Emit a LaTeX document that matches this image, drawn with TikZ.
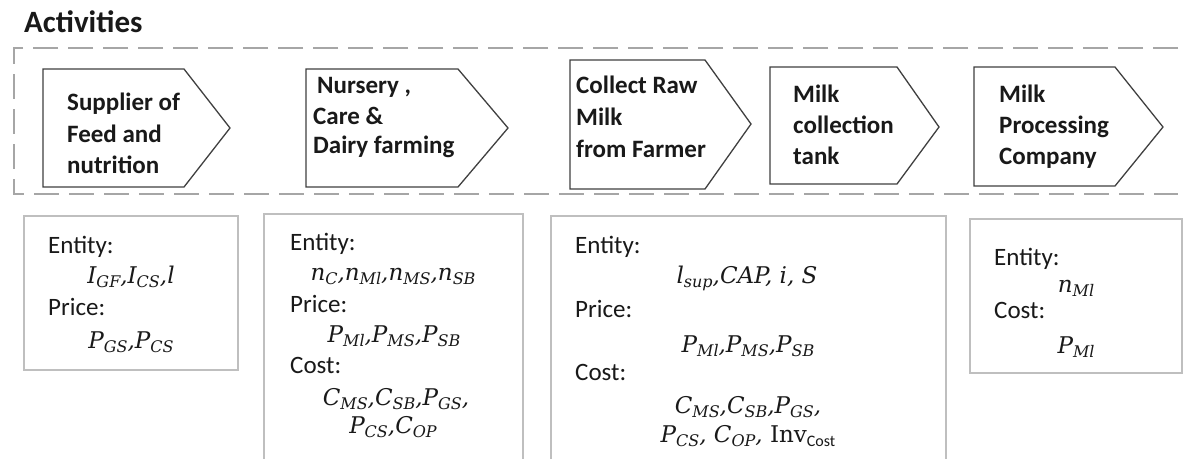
\documentclass[tikz,border=0pt]{standalone}
\usepackage{fontspec}
\setmainfont{Carlito}
\newfontfamily\mathlike{DejaVu Serif}
\newcommand{\lowr}[1]{\raisebox{-4.5pt}{\fontsize{16}{16}\selectfont #1}}
\begin{document}
\begin{tikzpicture}[x=1pt,y=-1pt,
 act/.style={draw=black!75, line width=1.3pt, fill=white, line join=miter},
 info/.style={draw=black!25, line width=2pt},
 lbl/.style={anchor=base west, inner sep=0pt, text=black!90, font=\fontsize{25}{31}\selectfont},
 bl/.style={anchor=base west, inner sep=0pt, text=black!90, font=\bfseries\fontsize{25}{31}\selectfont},
 mth/.style={anchor=base, inner sep=0pt, text=black!90, font=\fontsize{23}{28}\selectfont\mathlike\itshape}]
\useasboundingbox (0,0) rectangle (1183,458);
\clip (0,0) rectangle (1183,458);
\fill[white] (0,0) rectangle (1183,458);

\node[anchor=base west, inner sep=0pt, text=black!90, font=\bfseries\fontsize{31}{36}\selectfont] (title) at (24,32) {Activities};

\draw[draw=black!35, line width=2.5pt, dash pattern=on 25pt off 10pt] (1178,48) -- (14,48) -- (14,194) -- (1178,194);

% activity arrows
\draw[act] (43,69) -- (184,69) -- (230,128) -- (184,187) -- (43,187) -- cycle;
\draw[act] (306,69) -- (458,69) -- (508,128) -- (458,187) -- (306,187) -- cycle;
\draw[act] (570,60) -- (705,60) -- (751,124) -- (705,189) -- (570,189) -- cycle;
\draw[act] (770,67) -- (897,67) -- (939,127) -- (897,184) -- (770,184) -- cycle;
\draw[act] (974,67) -- (1115,67) -- (1163,127) -- (1115,186) -- (974,186) -- cycle;

\node[bl] (a1l1) at (67,110) {Supplier of};
\node[bl] (a1l2) at (67,142) {Feed and};
\node[bl] (a1l3) at (67,173) {nutrition};

\node[bl] (a2l1) at (317,93) {Nursery ,};
\node[bl] (a2l2) at (313,124) {Care \&};
\node[bl] (a2l3) at (313,153) {Dairy farming};

\node[bl] (a3l1) at (576,93) {Collect Raw};
\node[bl] (a3l2) at (576,125) {Milk};
\node[bl] (a3l3) at (576,157) {from Farmer};

\node[bl] (a4l1) at (793,102) {Milk};
\node[bl] (a4l2) at (793,133) {collection};
\node[bl] (a4l3) at (793,164) {tank};

\node[bl] (a5l1) at (999,102) {Milk};
\node[bl] (a5l2) at (999,133) {Processing};
\node[bl] (a5l3) at (999,164) {Company};

% info boxes
\draw[info] (24,216) rectangle (238,370);
\draw[info] (264,214) rectangle (523,470);
\draw[info] (551,216) rectangle (946,470);
\draw[info] (970,219) rectangle (1182,373);

\node[lbl] (b1e) at (48,253) {Entity:};
\node[mth] (b1em) at (131,283) {I\lowr{GF},I\lowr{CS},l};
\node[lbl] (b1p) at (48,315) {Price:};
\node[mth] (b1pm) at (131,348) {P\lowr{GS},P\lowr{CS}};

\node[lbl] (b2e) at (290,250) {Entity:};
\node[mth] (b2em) at (393,280) {n\lowr{C},n\lowr{Ml},n\lowr{MS},n\lowr{SB}};
\node[lbl] (b2p) at (290,312) {Price:};
\node[mth] (b2pm) at (394,342) {P\lowr{Ml},P\lowr{MS},P\lowr{SB}};
\node[lbl] (b2c) at (290,373) {Cost:};
\node[mth] (b2cm1) at (396,405) {C\lowr{MS},C\lowr{SB},P\lowr{GS},};
\node[mth] (b2cm2) at (393,433) {P\lowr{CS},C\lowr{OP}};

\node[lbl] (b3e) at (575,253) {Entity:};
\node[mth] (b3em) at (747,283) {l\lowr{sup},CAP, i, S};
\node[lbl] (b3p) at (575,317) {Price:};
\node[mth] (b3pm) at (748,352) {P\lowr{Ml},P\lowr{MS},P\lowr{SB}};
\node[lbl] (b3c) at (575,380) {Cost:};
\node[mth] (b3cm1) at (748,413) {C\lowr{MS},C\lowr{SB},P\lowr{GS},};
\node[mth] (b3cm2) at (748,442) {P\lowr{CS}, C\lowr{OP}, {\upshape Inv}\lowr{\normalfont Cost}};

\node[lbl] (b4e) at (994,265) {Entity:};
\node[mth] (b4em) at (1076,292) {n\lowr{Ml}};
\node[lbl] (b4c) at (994,318) {Cost:};
\node[mth] (b4cm) at (1076,353) {P\lowr{Ml}};
\end{tikzpicture}
\end{document}
